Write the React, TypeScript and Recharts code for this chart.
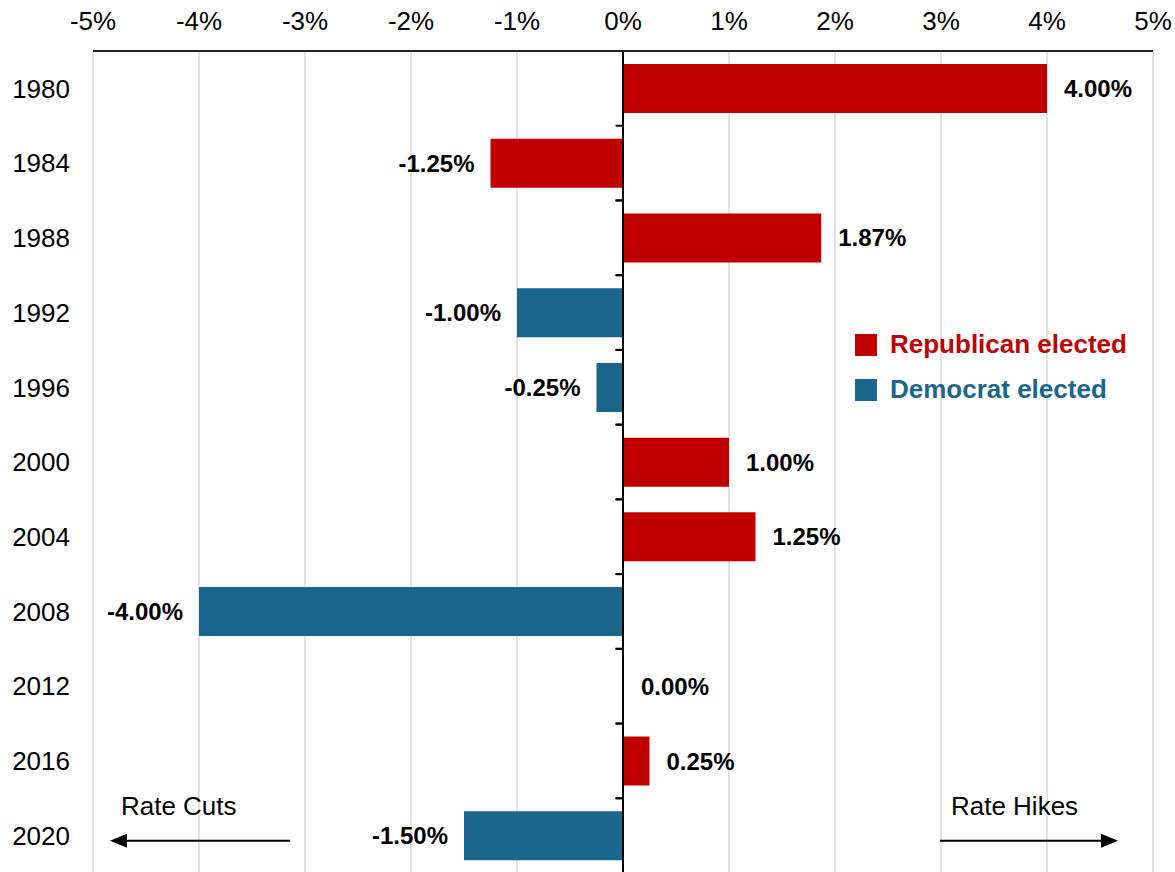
import { BarChart, Bar, XAxis, YAxis, CartesianGrid, ReferenceLine, ReferenceArea, LabelList, Legend } from 'recharts'

const years = ['1980', '1984', '1988', '1992', '1996', '2000', '2004', '2008', '2012', '2016', '2020']
const rateChange = [4.0, -1.25, 1.87, -1.0, -0.25, 1.0, 1.25, -4.0, 0.0, 0.25, -1.5]
const winner = ['R', 'R', 'R', 'D', 'D', 'R', 'R', 'D', 'D', 'R', 'D']
const xTicks = [-5, -4, -3, -2, -1, 0, 1, 2, 3, 4, 5]
const seriesOrder = ['Republican elected', 'Democrat elected']

const RED = '#c00000'
const BLUE = '#1b668d'
const FONT = 'Liberation Sans, Arial, sans-serif'

const data = years.map((year, i) => ({
  year,
  rep: winner[i] === 'R' ? rateChange[i] : null,
  dem: winner[i] === 'D' ? rateChange[i] : null,
}))

const renderValueLabel = (props: any) => {
  const { x, y, width, height, value } = props
  if (value == null) return null
  const left = Math.min(x, x + width)
  const right = Math.max(x, x + width)
  const neg = value < 0
  return (
    <text
      x={neg ? left - 16 : right + 17}
      y={y + height / 2}
      textAnchor={neg ? 'end' : 'start'}
      dominantBaseline="central"
      fontFamily={FONT}
      fontWeight="bold"
      fontSize={24}
      fill="#000"
    >
      {value.toFixed(2)}%
    </text>
  )
}

const renderLegend = (props: any) => {
  const items = [...(props.payload || [])].sort(
    (a: any, b: any) => seriesOrder.indexOf(a.value) - seriesOrder.indexOf(b.value)
  )
  return (
    <div style={{ fontFamily: FONT }}>
      {items.map((p: any) => (
        <div key={p.value} style={{ display: 'flex', alignItems: 'center', height: 45 }}>
          <span style={{ width: 22, height: 22, background: p.color, display: 'inline-block', marginRight: 13 }} />
          <span style={{ color: p.color, fontWeight: 'bold', fontSize: 26 }}>{p.value}</span>
        </div>
      ))}
    </div>
  )
}

// small tick marks on the zero axis at the band edges
const bandTicks = (props: any) => {
  const { x, y, width, height } = props
  return (
    <g stroke="#000" strokeWidth={2}>
      <line x1={x} y1={y} x2={x + width} y2={y} />
      <line x1={x} y1={y + height} x2={x + width} y2={y + height} />
    </g>
  )
}

// arrow with caption; dir -1 points left, 1 points right
const arrowShape = (caption: string, dir: number) => (props: any) => {
  const { x, y, width, height } = props
  const ly = y + height / 2 + 5
  const tip = dir < 0 ? x : x + width
  const tail = dir < 0 ? x + width : x
  return (
    <g>
      <line x1={tail} y1={ly} x2={tip - dir * 10} y2={ly} stroke="#000" strokeWidth={2} />
      <polygon points={`${tip},${ly} ${tip - dir * 17},${ly - 7} ${tip - dir * 17},${ly + 7}`} fill="#000" />
      <text x={x + 11} y={ly - 35} textAnchor="start" dominantBaseline="central" fontFamily={FONT} fontSize={26} fill="#000">
        {caption}
      </text>
    </g>
  )
}

export default function App() {
  return (
    <div style={{ width: 1175, height: 872, overflow: 'hidden' }}>
      <style>{'body{margin:0}'}</style>
      <BarChart
        width={1175}
        height={880}
        data={data}
        layout="vertical"
        stackOffset="sign"
        margin={{ top: 0, right: 22, bottom: 7, left: 0 }}
      >
        <CartesianGrid horizontal={false} stroke="#d9d9d9" strokeWidth={1.5} />
        <XAxis
          type="number"
          orientation="top"
          domain={[-5, 5]}
          ticks={xTicks}
          tickFormatter={(v: number) => `${v}%`}
          height={51}
          axisLine={{ stroke: '#222', strokeWidth: 2 }}
          tickLine={false}
          tickSize={0}
          tickMargin={21}
          tick={{ fontSize: 26, fill: '#000', fontFamily: FONT }}
          interval={0}
        />
        <YAxis
          type="category"
          dataKey="year"
          width={93}
          axisLine={false}
          tickLine={false}
          tickSize={0}
          tickMargin={23}
          tick={{ fontSize: 26, fill: '#000', fontFamily: FONT }}
          interval={0}
        />
        <Bar dataKey="rep" name="Republican elected" stackId="a" fill={RED} barSize={49} isAnimationActive={false}>
          <LabelList dataKey="rep" content={renderValueLabel} />
        </Bar>
        <Bar
          dataKey="dem"
          name="Democrat elected"
          stackId="a"
          fill={BLUE}
          barSize={49}
          minPointSize={(v: any) => (v === 0 ? 1 : 0)}
          isAnimationActive={false}
        >
          <LabelList dataKey="dem" content={renderValueLabel} />
        </Bar>
        <ReferenceLine x={0} stroke="#000" strokeWidth={2} />
        {years.map((yr) => (
          <ReferenceArea key={yr} x1={-0.07} x2={0} y1={yr} y2={yr} shape={bandTicks} />
        ))}
        <ReferenceArea x1={-4.84} x2={-3.14} y1="2020" y2="2020" shape={arrowShape('Rate Cuts', -1)} />
        <ReferenceArea x1={2.99} x2={4.67} y1="2020" y2="2020" shape={arrowShape('Rate Hikes', 1)} />
        <Legend
          layout="vertical"
          align="center"
          verticalAlign="middle"
          wrapperStyle={{ left: 855, top: 322, width: 320 }}
          content={renderLegend}
        />
      </BarChart>
    </div>
  )
}
